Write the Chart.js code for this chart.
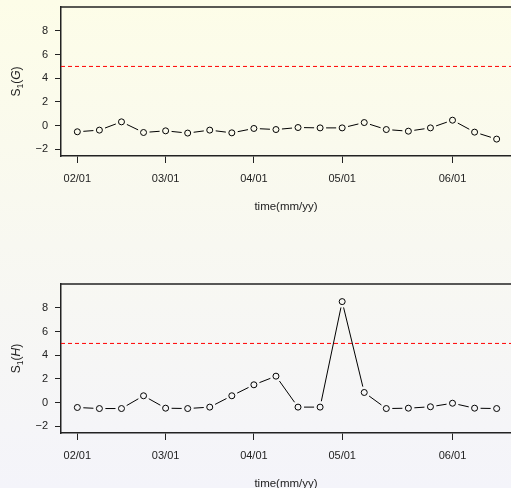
<!DOCTYPE html>
<html>
<head>
<meta charset="utf-8">
<script src="https://cdn.jsdelivr.net/npm/chart.js@4"></script>
<style>
  html, body { margin: 0; padding: 0; }
  body {
    width: 511px; height: 488px; overflow: hidden; position: relative;
    background: linear-gradient(to bottom, #fdfde8 0%, #f8f8f1 50%, #f4f4fa 100%);
  }
  canvas { position: absolute; left: 0; }
  #wykresG { top: 0; }
  #wykresH { top: 244px; }
</style>
</head>
<body>
<canvas id="wykresG" width="511" height="244"></canvas>
<canvas id="wykresH" width="511" height="244"></canvas>
<script>
// tygodnie (indeks pomiaru)
var weeks = [0, 1, 2, 3, 4, 5, 6, 7, 8, 9, 10, 11, 12, 13, 14, 15, 16, 17, 18, 19];
var sG = [-0.53, -0.39, 0.31, -0.59, -0.45, -0.64, -0.39, -0.62, -0.25, -0.34,
          -0.17, -0.2, -0.2, 0.25, -0.34, -0.48, -0.2, 0.45, -0.56, -1.15];
var sH = [-0.42, -0.51, -0.51, 0.57, -0.48, -0.51, -0.39, 0.57, 1.5, 2.23,
          -0.39, -0.39, 8.54, 0.85, -0.51, -0.48, -0.36, -0.06, -0.48, -0.51];
var limit = 5;
var xTickIdx = [0, 4, 8, 12, 17];
var xTickLabels = ['02/01', '03/01', '04/01', '05/01', '06/01'];
var yTicks = [-2, 0, 2, 4, 6, 8];

var ink = '#222';
var fontFam = '"Liberation Sans", Arial, sans-serif';

// ramka u gory + przerywana linia progu
var frame = {
  id: 'frame',
  beforeDatasetsDraw: function (chart) {
    var a = chart.chartArea, ctx = chart.ctx;
    var y = chart.scales.y.getPixelForValue(limit);
    ctx.save();
    ctx.strokeStyle = '#ff0000';
    ctx.lineWidth = 1;
    ctx.setLineDash([4, 3]);
    ctx.beginPath();
    ctx.moveTo(a.left, y);
    ctx.lineTo(a.right, y);
    ctx.stroke();
    ctx.setLineDash([]);
    ctx.strokeStyle = ink;
    ctx.lineWidth = 1.5;
    ctx.beginPath();
    ctx.moveTo(a.left, a.top);
    ctx.lineTo(a.right, a.top);
    ctx.stroke();
    ctx.restore();
  }
};

// linie miedzy punktami z przerwa (jak type="b")
var gapLines = {
  id: 'gapLines',
  afterDatasetsDraw: function (chart) {
    var pts = chart.getDatasetMeta(0).data, ctx = chart.ctx, gap = 6;
    ctx.save();
    ctx.strokeStyle = '#000';
    ctx.lineWidth = 1;
    for (var i = 1; i < pts.length; i++) {
      var x0 = pts[i - 1].x, y0 = pts[i - 1].y, x1 = pts[i].x, y1 = pts[i].y;
      var d = Math.hypot(x1 - x0, y1 - y0);
      if (d <= 2 * gap) continue;
      var ux = (x1 - x0) / d, uy = (y1 - y0) / d;
      ctx.beginPath();
      ctx.moveTo(x0 + ux * gap, y0 + uy * gap);
      ctx.lineTo(x1 - ux * gap, y1 - uy * gap);
      ctx.stroke();
    }
    ctx.restore();
  }
};

// opis osi y: S z indeksem 1 i litera kursywa
var yTitle = {
  id: 'yTitle',
  afterDraw: function (chart) {
    var a = chart.chartArea, ctx = chart.ctx;
    var letter = chart.options.plugins.yTitle.letter;
    var parts = [
      { t: 'S', f: '12px ' + fontFam, dy: 0 },
      { t: '1', f: '8.5px ' + fontFam, dy: 3 },
      { t: '(', f: '12px ' + fontFam, dy: 0 },
      { t: letter, f: 'italic 12px ' + fontFam, dy: 0 },
      { t: ')', f: '12px ' + fontFam, dy: 0 }
    ];
    ctx.save();
    ctx.translate(20, (a.top + a.bottom) / 2);
    ctx.rotate(-Math.PI / 2);
    ctx.fillStyle = ink;
    ctx.textBaseline = 'alphabetic';
    var total = 0;
    parts.forEach(function (p) { ctx.font = p.f; p.w = ctx.measureText(p.t).width; total += p.w; });
    var x = -total / 2;
    parts.forEach(function (p) { ctx.font = p.f; ctx.fillText(p.t, x, p.dy); x += p.w; });
    ctx.restore();
  }
};

function rysujPanel(id, values, letter, topPad, titlePad) {
  var ctx = document.getElementById(id);
  return new Chart(ctx, {
    type: 'scatter',
    data: {
      datasets: [{
        data: weeks.map(function (w, i) { return { x: w, y: values[i] }; }),
        showLine: false,
        pointRadius: 3,
        pointHoverRadius: 3,
        pointBorderWidth: 1,
        pointBorderColor: '#000',
        pointBackgroundColor: 'rgba(0,0,0,0)'
      }]
    },
    options: {
      responsive: false,
      animation: false,
      devicePixelRatio: 1,
      layout: { autoPadding: false, padding: { top: topPad, left: 0, right: 0, bottom: 0 } },
      plugins: {
        legend: { display: false },
        tooltip: { enabled: false },
        yTitle: { letter: letter }
      },
      scales: {
        x: {
          type: 'linear',
          min: -0.74,
          max: 19.65,
          afterFit: function (s) {
            s.height = 244 - topPad - 149;
            s.paddingLeft = 0;
            s.paddingRight = 0;
          },
          afterBuildTicks: function (s) {
            s.ticks = xTickIdx.map(function (v) { return { value: v }; });
          },
          ticks: {
            autoSkip: false,
            maxRotation: 0,
            padding: 9,
            color: ink,
            font: { family: fontFam, size: 11 },
            callback: function (v) { return xTickLabels[xTickIdx.indexOf(v)]; }
          },
          grid: { drawOnChartArea: false, drawTicks: true, tickLength: 7, tickColor: ink, tickWidth: 1 },
          border: { display: true, color: ink, width: 1.5 },
          title: {
            display: true,
            text: 'time(mm/yy)',
            color: ink,
            font: { family: fontFam, size: 11.5, lineHeight: 1 },
            padding: { top: 0, bottom: titlePad }
          }
        },
        y: {
          min: -2.58,
          max: 10.03,
          afterFit: function (s) {
            s.width = 61;
            s.paddingTop = 0;
            s.paddingBottom = 0;
          },
          afterBuildTicks: function (s) {
            s.ticks = yTicks.map(function (v) { return { value: v }; });
          },
          ticks: {
            padding: 7,
            color: ink,
            font: { family: fontFam, size: 11 },
            callback: function (v) { return v < 0 ? '\u2212' + Math.abs(v) : String(v); }
          },
          grid: { drawOnChartArea: false, drawTicks: true, tickLength: 6, tickColor: ink, tickWidth: 1 },
          border: { display: true, color: ink, width: 1.5 }
        }
      }
    },
    plugins: [frame, gapLines, yTitle]
  });
}

rysujPanel('wykresG', sG, 'G', 7, 31.5);
rysujPanel('wykresH', sH, 'H', 40, -2);
</script>
</body>
</html>
